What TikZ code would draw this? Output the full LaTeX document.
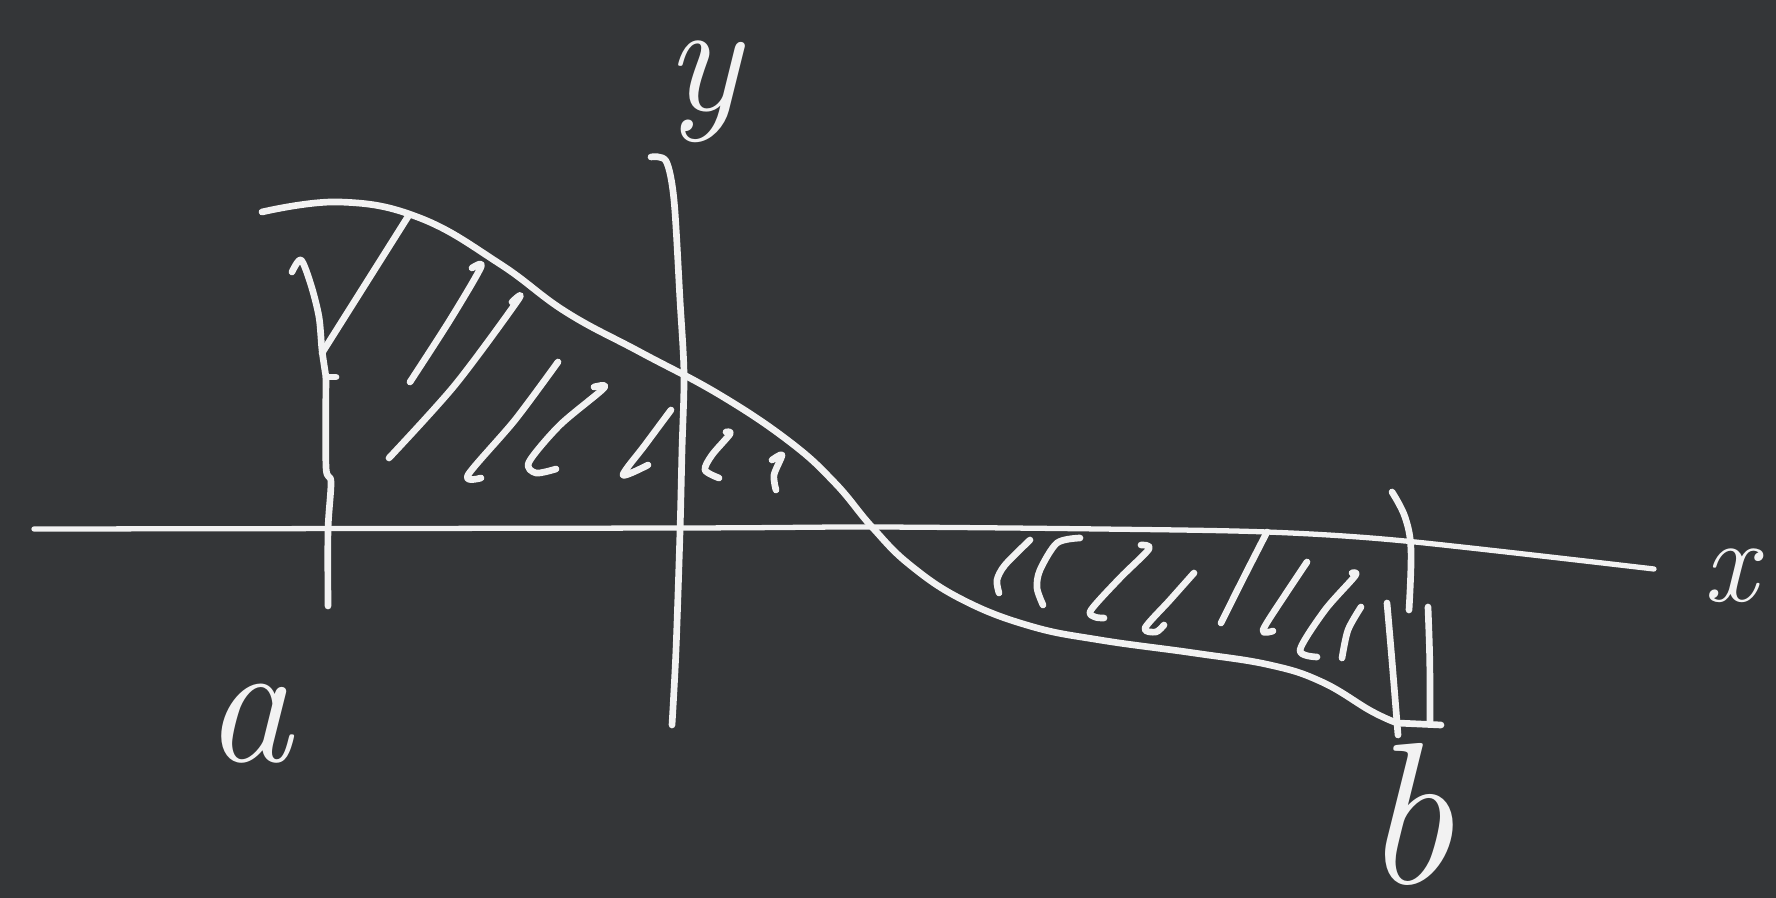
\documentclass[tikz,border=0pt]{standalone}
\usepackage{fontspec}
\definecolor{board}{HTML}{343638}
\definecolor{chalk}{HTML}{F2F2F2}
\tikzset{
  chalk/.style={draw=chalk, line width=3.8pt, line cap=round, line join=round},
  axisline/.style={draw=chalk, line width=3pt, line cap=round, line join=round},
  hatch/.style={draw=chalk, line width=3.8pt, line cap=round, line join=round},
  letter/.style={text=chalk, inner sep=6pt}
}
\begin{document}
\begin{tikzpicture}[x=0.02cm, y=-0.02cm]
\fill[board] (0,0) rectangle (1776,898);
\useasboundingbox (0,0) rectangle (1776,898);

% x-axis
\draw[axisline] plot[smooth, tension=0.5] coordinates {(34,529) (680,528) (872,527) (1100,529) (1267,532) (1405,541) (1654,569)};
% y-axis
\draw[chalk] plot[smooth, tension=0.5] coordinates {(651,157) (666,161) (674,200) (680,300) (684,374) (682,450) (680,532) (676,650) (672,725)};

% graph of f
\draw[chalk] plot[smooth, tension=0.7] coordinates {(262,212) (340,202) (420,218) (500,264) (566,312) (640,352) (720,395) (790,442) (835,483) (872,527) (910,565) (963,600) (1030,626) (1100,640) (1194,653) (1270,665) (1322,682) (1371,711) (1397,723)};
\draw[chalk] (1397,723) -- (1441,725);

% left bound (a)
\draw[chalk] plot[smooth, tension=0.5] coordinates {(292,272) (301,260) (311,285) (319,317) (322,350) (326,377)};
\draw[chalk] (326,377) -- (336,377);
\draw[chalk] plot[smooth, tension=0.5] coordinates {(326,377) (326,467) (331,482) (328,530) (328,606)};

% right bound (b)
\draw[chalk] plot[smooth, tension=0.6] coordinates {(1392,492) (1405,517) (1411,550) (1409,610)};
\draw[chalk] (1387,603) .. controls (1392,660) .. (1398,735);
\draw[chalk] (1428,607) .. controls (1430,660) .. (1430,723);

% hatching, upper left
\draw[hatch] (409,215) -- (322,353);
\draw[hatch] plot[smooth, tension=0.5] coordinates {(472,268) (481,267) (450,320) (410,382)};
\draw[hatch] plot[smooth, tension=0.5] coordinates {(512,302) (518,300) (455,385) (389,458)};
\draw[hatch] plot[smooth, tension=0.5] coordinates {(558,362) (515,420) (468,475) (481,478)};
\draw[hatch] plot[smooth, tension=0.5] coordinates {(594,387) (604,388) (560,425) (529,462) (536,473) (556,469)};
\draw[hatch] plot[smooth, tension=0.5] coordinates {(671,410) (645,445) (623,475) (648,465)};
\draw[hatch] plot[smooth, tension=0.5] coordinates {(726,432) (730,434) (712,455) (705,470) (719,478)};
\draw[hatch] plot[smooth, tension=0.5] coordinates {(772,460) (782,455) (774,475) (776,490)};

% hatching, lower right
\draw[hatch] plot[smooth, tension=0.5] coordinates {(1030,540) (1005,565) (997,580) (999,593)};
\draw[hatch] plot[smooth, tension=0.5] coordinates {(1080,538) (1057,543) (1040,570) (1037,588) (1043,605)};
\draw[hatch] plot[smooth, tension=0.5] coordinates {(1141,545) (1149,549) (1120,578) (1091,610) (1095,617) (1104,618)};
\draw[hatch] plot[smooth, tension=0.5] coordinates {(1194,573) (1170,600) (1145,628) (1156,632) (1164,625)};
\draw[hatch] plot[smooth, tension=0.5] coordinates {(1267,532) (1245,575) (1221,623)};
\draw[hatch] plot[smooth, tension=0.5] coordinates {(1307,562) (1285,595) (1263,630) (1273,631)};
\draw[hatch] plot[smooth, tension=0.5] coordinates {(1352,573) (1355,576) (1325,610) (1300,650) (1317,657)};
\draw[hatch] plot[smooth, tension=0.5] coordinates {(1361,607) (1348,630) (1342,658)};

% labels
\node[letter, font=\fontsize{90}{90}\selectfont\itshape] (ylab) at (703,92) {y};
\node[letter, font=\fontsize{68}{68}\selectfont\itshape] (xlab) at (1730,576) {x};
\node[letter, font=\fontsize{100}{100}\selectfont\itshape] (alab) at (248,724) {a};
\node[letter, font=\fontsize{115}{115}\selectfont\itshape] (blab) at (1408,814) {b};
\end{tikzpicture}
\end{document}
